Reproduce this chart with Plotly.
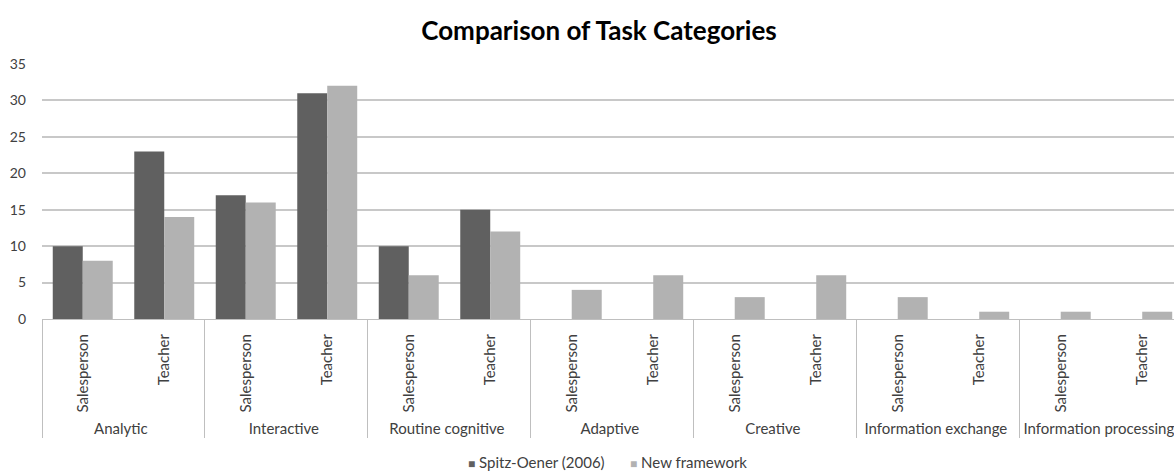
import plotly.graph_objects as go

categories = ["Analytic", "Interactive", "Routine cognitive", "Adaptive",
              "Creative", "Information exchange", "Information processing"]
occupations = ["Salesperson", "Teacher"]
series_names = ["Spitz-Oener (2006)", "New framework"]
spitz_oener = [10, 23, 17, 31, 10, 15, 0, 0, 0, 0, 0, 0, 0, 0]
new_framework = [8, 14, 16, 32, 6, 12, 4, 6, 3, 6, 3, 1, 1, 1]

outer = [c for c in categories for _ in occupations]
inner = [o for _ in categories for o in occupations]

FONT = "Lato"
colors = ["#606060", "#b2b2b2"]

fig = go.Figure()
for name, vals, col in zip(series_names, [spitz_oener, new_framework], colors):
    fig.add_trace(go.Bar(x=[outer, inner], y=vals, name=name,
                         marker=dict(color=col, line=dict(width=0))))

# legend drawn as annotations (small square markers like the original)
PLOT_L, PLOT_W, PLOT_B, PLOT_H = 42, 1132, 319, 255
legend_x = [466, 628]
annotations = []
for n, c, lx in zip(series_names, colors, legend_x):
    annotations.append(dict(
        text=f"<span style='color:{c};font-size:12px'>■</span>\u00a0{n}",
        x=(lx - PLOT_L) / PLOT_W, y=(PLOT_B - 462) / PLOT_H, xref="paper", yref="paper",
        xanchor="left", yanchor="middle", showarrow=False,
        font=dict(size=15, color="#404040")))

fig.update_layout(
    width=1174, height=471,
    margin=dict(l=PLOT_L, r=0, t=64, b=152),
    paper_bgcolor="white", plot_bgcolor="white",
    font=dict(family=FONT, size=15, color="#404040"),
    title=dict(text="<b>Comparison of Task Categories</b>", x=599 / 1174, xanchor="center",
               y=1 - 31 / 471, yanchor="middle", font=dict(family=FONT, size=26, color="#000000")),
    barmode="group", bargap=0.264, bargroupgap=0,
    showlegend=False,
    annotations=annotations,
    xaxis=dict(type="multicategory", range=[-0.5, 13.39], tickangle=-90, automargin=False,
               showline=True, linecolor="#bfbfbf", linewidth=1,
               showdividers=True, dividercolor="#bfbfbf", dividerwidth=1,
               ticks="", tickfont=dict(size=15, color="#404040"), showgrid=False,
               ticklabelstandoff=8),
    yaxis=dict(range=[0, 35], dtick=5, showgrid=True, gridcolor="#c8c8c8", gridwidth=1.5,
               zeroline=False, showline=False, ticks="", automargin=False,
               tickfont=dict(size=14, color="#404040"), ticklabelstandoff=15),
)

fig.write_html("out.html")
